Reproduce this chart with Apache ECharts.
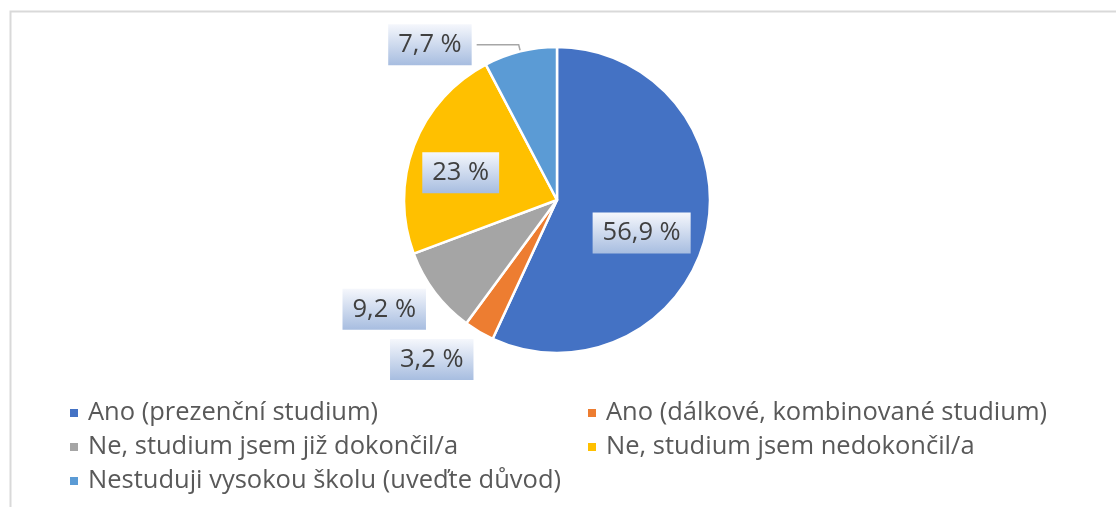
<!DOCTYPE html>
<html>
<head>
<meta charset="utf-8">
<script src="https://cdn.jsdelivr.net/npm/echarts@6/dist/echarts.min.js"></script>
<style>
  html, body { margin: 0; padding: 0; background: #fff; }
  #chart { width: 1116px; height: 507px; }
</style>
</head>
<body>
<div id="chart"></div>
<script>
const categories = [
  'Ano (prezenční studium)',
  'Ano (dálkové, kombinované studium)',
  'Ne, studium jsem již dokončil/a',
  'Ne, studium jsem nedokončil/a',
  'Nestuduji vysokou školu (uveďte důvod)'
];
const values = [56.9, 3.2, 9.2, 23, 7.7];
const colors = ['#4472C4', '#ED7D31', '#A5A5A5', '#FFC000', '#5B9BD5'];
const labelPlacement = ['inside', 'outside', 'outside', 'inside', 'outside'];
// label nudges, px
const labelShift = [[7, 16], [37, 15], [38, 8], [-22, 1], [0, 0]];

const myChart = echarts.init(document.getElementById('chart'));

const pieData = categories.map((name, i) => ({
  name: name,
  value: values[i],
  itemStyle: { color: colors[i] },
  label: { position: labelPlacement[i] },
  labelLine: i === 4 ? { show: true, length: 7, length2: 42 } : { show: false }
}));

const legendText = {
  color: '#595959',
  fontFamily: 'Open Sans',
  fontSize: 25.5,
  lineHeight: 26,
  padding: [0, 0, 0, 4]
};

const option = {
  animation: false,
  color: colors,
  graphic: [{
    type: 'rect',
    left: 8,
    top: 9,
    shape: { width: 1300, height: 700 },
    style: { fill: 'none', stroke: '#d9d9d9', lineWidth: 2 },
    silent: true
  }],
  legend: [{
    orient: 'vertical',
    left: 63,
    top: 395,
    itemWidth: 10,
    itemHeight: 10,
    itemGap: 8,
    icon: 'rect',
    data: [categories[0], categories[2], categories[4]],
    textStyle: legendText
  }, {
    orient: 'vertical',
    left: 581,
    top: 395,
    itemWidth: 10,
    itemHeight: 10,
    itemGap: 8,
    icon: 'rect',
    data: [categories[1], categories[3]],
    textStyle: legendText
  }],
  series: [{
    type: 'pie',
    center: [557, 200],
    radius: 153,
    startAngle: 90,
    clockwise: true,
    silent: true,
    itemStyle: { borderColor: '#fff', borderWidth: 2.5 },
    label: {
      formatter: p => String(p.value).replace('.', ',') + ' %',
      color: '#404040',
      fontFamily: 'Open Sans',
      fontSize: 25.5,
      lineHeight: 28,
      padding: [7, 10, 6, 10],
      backgroundColor: {
        type: 'linear', x: 0, y: 0, x2: 0, y2: 1,
        colorStops: [
          { offset: 0, color: '#f5f7fc' },
          { offset: 1, color: '#a7bde0' }
        ]
      }
    },
    labelLine: {
      lineStyle: { color: '#a6a6a6', width: 1.5 }
    },
    labelLayout: p => ({ dx: labelShift[p.dataIndex][0], dy: labelShift[p.dataIndex][1] }),
    data: pieData
  }]
};

myChart.setOption(option);
</script>
</body>
</html>
